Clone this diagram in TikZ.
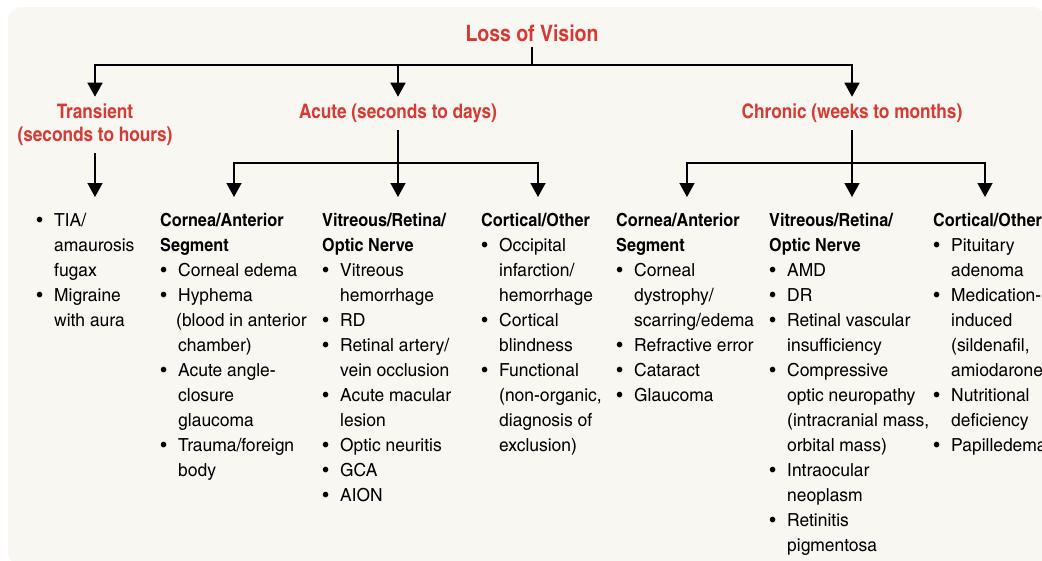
\documentclass[tikz,border=0pt]{standalone}
\usepackage{fontspec}
\setmainfont{texgyreheroscn}[Extension=.otf, UprightFont=*-regular, BoldFont=*-bold, UprightFeatures={FakeStretch=1.18}, BoldFeatures={FakeStretch=1.10}]
\newfontfamily\ttlfont{texgyreheroscn}[Extension=.otf, UprightFont=*-bold, BoldFont=*-bold, UprightFeatures={FakeStretch=1.05}, BoldFeatures={FakeStretch=1.05}]
\usetikzlibrary{arrows.meta}
\definecolor{hdred}{RGB}{214,58,52}
\definecolor{bgcream}{RGB}{248,247,241}
\newcommand{\bul}{\makebox[18pt][l]{\hspace{0.5pt}\textbullet}}
\newcommand{\ind}{\hspace*{18pt}}
\tikzset{
  ln/.style={line width=1.5pt, black},
  arr/.style={ln, -{Triangle[width=15pt,length=14pt]}},
  cat/.style={text=hdred, font=\fontsize{20}{23}\selectfont\ttlfont, inner xsep=0pt, inner ysep=5pt, anchor=base},
  col/.style={font=\fontsize{18}{25}\selectfont, inner sep=0pt, anchor=base west},
}
\begin{document}
\begin{tikzpicture}[x=1pt,y=-1pt]
\useasboundingbox (0,0) rectangle (1042,560);
\begin{scope}
\clip (0,0) rectangle (1042,560);
\fill[bgcream, rounded corners=14pt] (8,7) rectangle (1046,566);

\node[text=hdred, font=\fontsize{22.6}{26}\selectfont\ttlfont, inner sep=0pt, anchor=base] (loss) at (532,41) {Loss of Vision};

\node[cat] (transient) at (95,118) {\begin{tabular}[t]{@{}c@{}}Transient\\(seconds to hours)\end{tabular}};
\node[cat] (acute) at (398,118) {\begin{tabular}[t]{@{}c@{}}Acute (seconds to days)\end{tabular}};
\node[cat] (chronic) at (852,118) {\begin{tabular}[t]{@{}c@{}}Chronic (weeks to months)\end{tabular}};

\node[col] (t1) at (36,226) {\begin{tabular}[t]{@{}l@{}}
\bul TIA/\\
\ind amaurosis\\
\ind fugax\\
\bul Migraine\\
\ind with aura
\end{tabular}};

\node[col] (a1) at (160,226) {\begin{tabular}[t]{@{}l@{}}
\textbf{Cornea/Anterior}\\
\textbf{Segment}\\
\bul Corneal edema\\
\bul Hyphema\\
\hspace*{16pt}(blood in anterior\\
\ind chamber)\\
\bul Acute angle-\\
\ind closure\\
\ind glaucoma\\
\bul Trauma/foreign\\
\ind body
\end{tabular}};

\node[col] (a2) at (322,226) {\begin{tabular}[t]{@{}l@{}}
\textbf{Vitreous/Retina/}\\
\textbf{Optic Nerve}\\
\bul Vitreous\\
\ind hemorrhage\\
\bul RD\\
\bul Retinal artery/\\
\ind vein occlusion\\
\bul Acute macular\\
\ind lesion\\
\bul Optic neuritis\\
\bul GCA\\
\bul AION
\end{tabular}};

\node[col] (a3) at (481,226) {\begin{tabular}[t]{@{}l@{}}
\textbf{Cortical/Other}\\
\bul Occipital\\
\ind infarction/\\
\ind hemorrhage\\
\bul Cortical\\
\ind blindness\\
\bul Functional\\
\ind (non-organic,\\
\ind diagnosis of\\
\ind exclusion)
\end{tabular}};

\node[col] (c1) at (616,226) {\begin{tabular}[t]{@{}l@{}}
\textbf{Cornea/Anterior}\\
\textbf{Segment}\\
\bul Corneal\\
\ind dystrophy/\\
\ind scarring/edema\\
\bul Refractive error\\
\bul Cataract\\
\bul Glaucoma
\end{tabular}};

\node[col] (c2) at (769,226) {\begin{tabular}[t]{@{}l@{}}
\textbf{Vitreous/Retina/}\\
\textbf{Optic Nerve}\\
\bul AMD\\
\bul DR\\
\bul Retinal vascular\\
\ind insufficiency\\
\bul Compressive\\
\ind optic neuropathy\\
\ind (intracranial mass,\\
\ind orbital mass)\\
\bul Intraocular\\
\ind neoplasm\\
\bul Retinitis\\
\ind pigmentosa
\end{tabular}};

\node[col] (c3) at (933,226) {\begin{tabular}[t]{@{}l@{}}
\textbf{Cortical/Other}\\
\bul Pituitary\\
\ind adenoma\\
\bul Medication-\\
\ind induced\\
\ind (sildenafil,\\
\ind amiodarone)\\
\bul Nutritional\\
\ind deficiency\\
\bul Papilledema
\end{tabular}};

% junctions and arrow tips
\coordinate (j0) at (532,65);
\coordinate (ja) at (398,163);
\coordinate (jc) at (852,163);
\coordinate (tt) at (95,197);
\coordinate (ta1) at (234,197);
\coordinate (ta2) at (398,197);
\coordinate (ta3) at (538,197);
\coordinate (tc1) at (687,197);
\coordinate (tc2) at (852,197);
\coordinate (tc3) at (985,197);

\draw[ln] ([yshift=-5.5pt]loss.base) -- (j0);
\draw[arr] (j0) -| (transient.north);
\draw[arr] (j0) -| (acute.north);
\draw[arr] (j0) -| (chronic.north);

\draw[arr] (transient.south) -- (tt);

\draw[ln] (acute.south) -- (ja);
\draw[arr] (ja) -| (ta1);
\draw[arr] (ja) -- (ta2);
\draw[arr] (ja) -| (ta3);

\draw[ln] (chronic.south) -- (jc);
\draw[arr] (jc) -| (tc1);
\draw[arr] (jc) -- (tc2);
\draw[arr] (jc) -| (tc3);
\end{scope}
\end{tikzpicture}
\end{document}
